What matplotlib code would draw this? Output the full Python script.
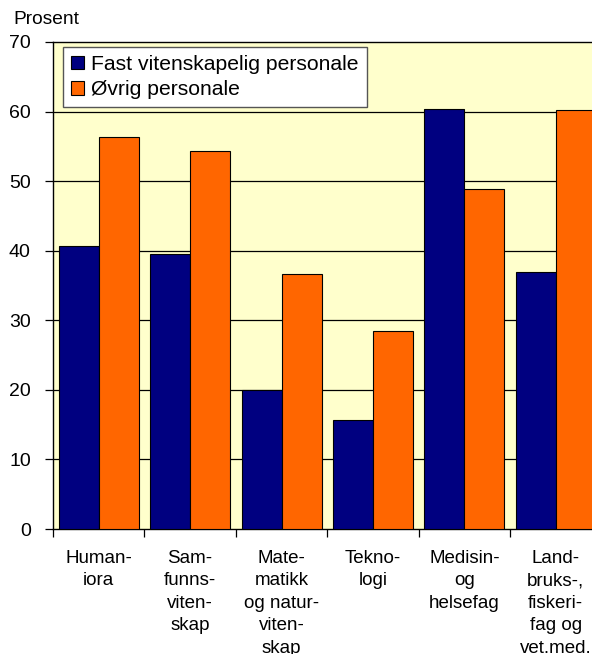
import numpy as np
import matplotlib
matplotlib.use("Agg")
import matplotlib.pyplot as plt

plt.rcParams['font.family'] = ['Liberation Sans', 'DejaVu Sans']

# data
categories = ["Human-\niora", "Sam-\nfunns-\nviten-\nskap", "Mate-\nmatikk\nog natur-\nviten-\nskap",
              "Tekno-\nlogi", "Medisin-\nog\nhelsefag", "Land-\nbruks-,\nfiskeri-\nfag og\nvet.med."]
fast = [40.7, 39.5, 20.0, 15.7, 60.4, 37.0]
ovrig = [56.3, 54.3, 36.7, 28.5, 48.8, 60.2]
series_names = ["Fast vitenskapelig personale", "Øvrig personale"]

W, H = 592, 654
fig = plt.figure(figsize=(W / 100, H / 100), dpi=100)
# plot area runs past the right edge of the picture (cropped like the original)
ax = fig.add_axes([53 / W, (H - 529) / H, (601.5 - 53) / W, (529 - 42) / H])
ax.set_facecolor('#FFFFCC')

x = np.arange(len(categories))
bw = 0.4375
ax.bar(x - bw / 2, fast, bw, color='#000080', edgecolor='black', linewidth=0.8,
       label=series_names[0], zorder=3)
ax.bar(x + bw / 2, ovrig, bw, color='#FF6600', edgecolor='black', linewidth=0.8,
       label=series_names[1], zorder=3)

ax.set_xlim(-0.5, len(categories) - 0.5)
ax.set_ylim(0, 70)
ax.set_yticks(range(0, 71, 10))
for v in range(10, 70, 10):
    ax.axhline(v, color='black', linewidth=0.9, zorder=1)

ax.set_xticks(np.arange(-0.5, len(categories), 1.0))
ax.set_xticklabels([])
ax.set_xticks(x, minor=True)
ax.set_xticklabels(categories, minor=True, fontsize=13.5, linespacing=1.42, va='top')
ax.tick_params(axis='x', which='minor', length=0, pad=15)
ax.tick_params(axis='x', which='major', length=6, width=0.9, direction='out')
ax.tick_params(axis='y', length=6, width=0.9, direction='out', labelsize=14, pad=10)

for s in ['left', 'bottom', 'top']:
    ax.spines[s].set_linewidth(1.0)
ax.spines['right'].set_visible(False)

fig.text(13 / W, 1 - 20 / H, "Prosent", fontsize=13.8, va='center', ha='left')

leg = ax.legend(loc='upper left', bbox_to_anchor=(63 / W, 1 - 47 / H), bbox_transform=fig.transFigure,
                borderaxespad=0, fontsize=15.2, frameon=True, fancybox=False, framealpha=1,
                handlelength=0.62, handleheight=0.62, handletextpad=0.33, labelspacing=0.3,
                borderpad=0.38)
leg.get_frame().set_edgecolor('#555555')
leg.get_frame().set_linewidth(1.0)

fig.savefig("out.png", dpi=100)
